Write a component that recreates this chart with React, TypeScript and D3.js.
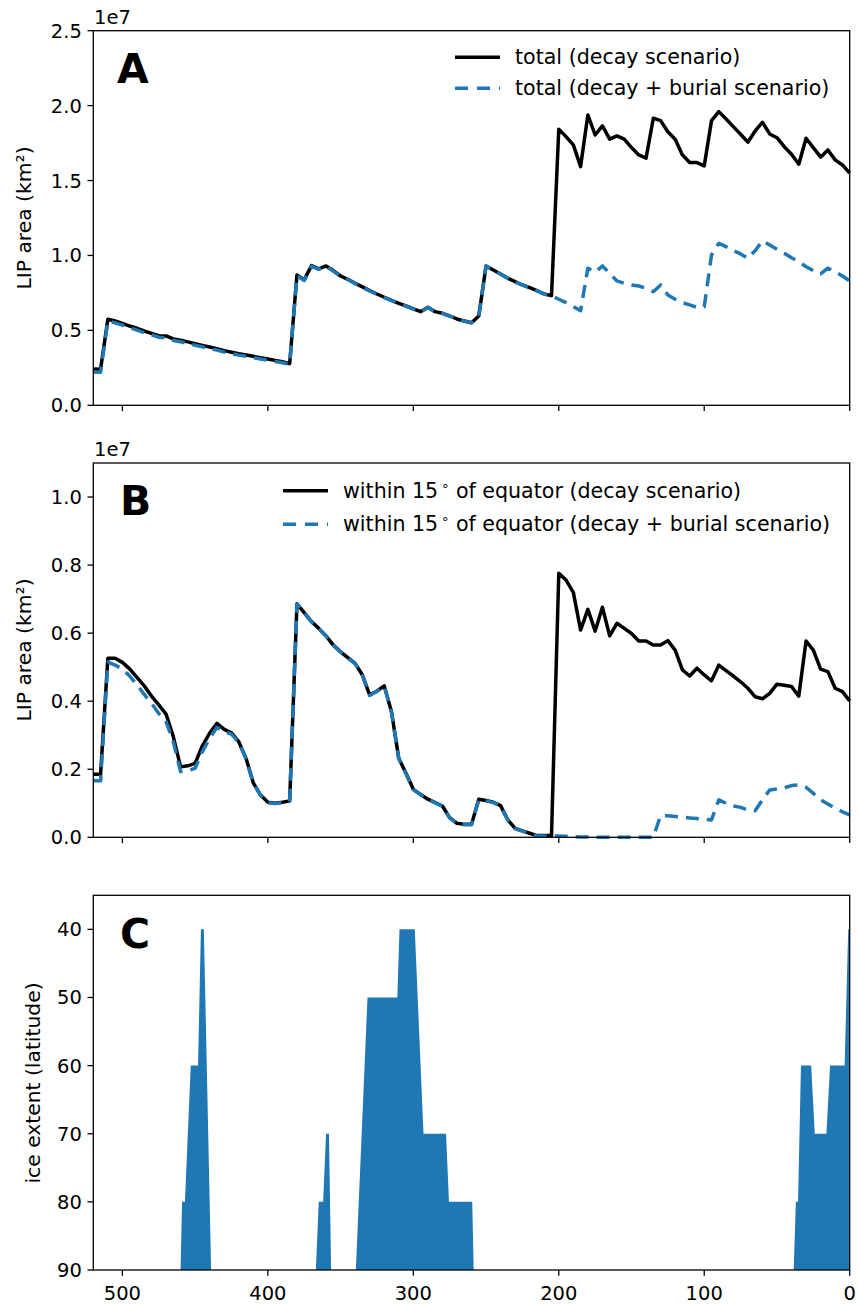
import * as d3 from 'd3'

// age in Myr, 5 Myr steps
const AGE = [
  520, 515, 510, 505, 500, 495, 490, 485, 480, 475,
  470, 465, 460, 455, 450, 445, 440, 435, 430, 425,
  420, 415, 410, 405, 400, 395, 390, 385, 380, 375,
  370, 365, 360, 355, 350, 345, 340, 335, 330, 325,
  320, 315, 310, 305, 300, 295, 290, 285, 280, 275,
  270, 265, 260, 255, 250, 245, 240, 235, 230, 225,
  220, 215, 210, 205, 200, 195, 190, 185, 180, 175,
  170, 165, 160, 155, 150, 145, 140, 135, 130, 125,
  120, 115, 110, 105, 100, 95, 90, 85, 80, 75,
  70, 65, 60, 55, 50, 45, 40, 35, 30, 25,
  20, 15, 10, 5, 0,
]

// LIP area, units of 1e6 km2
const TOTAL_DECAY = [
  2.42, 2.40, 5.74, 5.63, 5.47, 5.29, 5.14, 4.96, 4.80, 4.65,
  4.63, 4.43, 4.34, 4.23, 4.11, 4.00, 3.89, 3.78, 3.65, 3.54,
  3.44, 3.36, 3.27, 3.18, 3.09, 3.00, 2.91, 2.78, 8.70, 8.37,
  9.32, 9.10, 9.30, 8.99, 8.63, 8.41, 8.14, 7.90, 7.65, 7.43,
  7.21, 7.00, 6.81, 6.63, 6.43, 6.25, 6.54, 6.25, 6.14, 5.96,
  5.76, 5.63, 5.51, 5.96, 9.30, 9.03, 8.76, 8.48, 8.25, 8.03,
  7.85, 7.65, 7.43, 7.32, 18.43, 17.93, 17.38, 15.93, 19.38, 18.04,
  18.65, 17.76, 17.98, 17.76, 17.20, 16.71, 16.49, 19.16, 19.00, 18.26,
  17.76, 16.71, 16.20, 16.20, 15.98, 19.00, 19.60, 19.11, 18.60, 18.09,
  17.56, 18.31, 18.89, 18.11, 17.86, 17.26, 16.76, 16.09, 17.82, 17.20,
  16.56, 17.04, 16.38, 16.04, 15.49,
]

const TOTAL_BURIAL = [
  2.22, 2.20, 5.62, 5.50, 5.35, 5.18, 5.02, 4.85, 4.70, 4.54,
  4.50, 4.33, 4.24, 4.13, 4.01, 3.90, 3.79, 3.68, 3.55, 3.45,
  3.35, 3.27, 3.18, 3.09, 3.00, 2.92, 2.84, 2.75, 8.65, 8.33,
  9.28, 9.07, 9.27, 8.96, 8.60, 8.39, 8.12, 7.88, 7.63, 7.41,
  7.19, 6.99, 6.80, 6.62, 6.42, 6.24, 6.53, 6.24, 6.13, 5.95,
  5.75, 5.62, 5.50, 5.95, 9.29, 9.02, 8.75, 8.47, 8.24, 8.02,
  7.84, 7.64, 7.42, 7.31, 7.08, 6.85, 6.58, 6.32, 9.15, 8.88,
  9.30, 8.81, 8.30, 8.14, 8.03, 7.96, 7.81, 7.58, 8.03, 7.36,
  7.08, 6.85, 6.70, 6.54, 6.58, 10.03, 10.81, 10.59, 10.32, 10.10,
  9.81, 10.32, 10.99, 10.70, 10.41, 10.15, 9.85, 9.59, 9.25, 8.99,
  8.77, 9.15, 8.92, 8.63, 8.30,
]

const EQ_DECAY = [
  1.85, 1.85, 5.26, 5.26, 5.14, 4.95, 4.70, 4.45, 4.15, 3.89,
  3.62, 2.96, 2.07, 2.10, 2.17, 2.69, 3.06, 3.35, 3.17, 3.07,
  2.81, 2.32, 1.60, 1.24, 1.03, 1.00, 1.03, 1.07, 6.86, 6.60,
  6.34, 6.14, 5.92, 5.65, 5.45, 5.28, 5.11, 4.77, 4.18, 4.30,
  4.45, 3.69, 2.32, 1.88, 1.41, 1.26, 1.12, 1.02, 0.92, 0.58,
  0.41, 0.38, 0.38, 1.12, 1.08, 1.03, 0.93, 0.51, 0.26, 0.19,
  0.12, 0.05, 0.05, 0.05, 7.76, 7.56, 7.20, 6.09, 6.70, 6.06,
  6.76, 5.92, 6.29, 6.14, 5.99, 5.77, 5.77, 5.65, 5.65, 5.78,
  5.50, 4.92, 4.74, 4.97, 4.77, 4.60, 5.06, 4.90, 4.74, 4.57,
  4.38, 4.13, 4.07, 4.23, 4.50, 4.47, 4.43, 4.15, 5.77, 5.50,
  4.94, 4.87, 4.38, 4.28, 4.01,
]

const EQ_BURIAL = [
  1.66, 1.66, 5.15, 5.06, 4.95, 4.74, 4.48, 4.20, 3.94, 3.64,
  3.40, 2.81, 1.93, 1.96, 2.03, 2.52, 2.91, 3.23, 3.10, 3.03,
  2.79, 2.31, 1.59, 1.23, 1.02, 0.99, 1.02, 1.06, 6.85, 6.59,
  6.33, 6.13, 5.91, 5.64, 5.44, 5.27, 5.10, 4.76, 4.17, 4.29,
  4.44, 3.68, 2.31, 1.87, 1.40, 1.25, 1.11, 1.01, 0.91, 0.57,
  0.40, 0.37, 0.37, 1.11, 1.07, 1.02, 0.92, 0.50, 0.25, 0.18,
  0.11, 0.04, 0.04, 0.04, 0.04, 0.03, 0.02, 0.01, 0.01, 0.00,
  0.00, 0.00, 0.00, 0.00, 0.00, 0.00, 0.00, 0.00, 0.64, 0.63,
  0.61, 0.59, 0.57, 0.55, 0.53, 0.51, 1.10, 1.00, 0.92, 0.88,
  0.80, 0.78, 1.10, 1.39, 1.42, 1.45, 1.52, 1.54, 1.47, 1.29,
  1.10, 0.98, 0.85, 0.75, 0.66,
]

// ice extent outline (age, latitude)
const ICE_AGE = [
  520, 460, 459, 457, 453, 448, 446, 444, 439,
  367, 365, 362, 360, 358, 356.5,
  339.5, 331.5, 311, 309.5, 299, 293, 277.5, 275.5, 259.5, 258.5,
  38.5, 37, 35.5, 33.5, 26.5, 24, 16, 13.5, 3.5, 1, 0,
]
const ICE_LAT = [
  90, 90, 80, 80, 60, 60, 40, 40, 90,
  90, 80, 80, 70, 70, 90,
  90, 50, 50, 40, 40, 70, 70, 80, 80, 90,
  90, 80, 80, 60, 60, 70, 70, 60, 60, 40, 40,
]

const X_TICKS = [500, 400, 300, 200, 100, 0]
const A_TICKS = [0, 5, 10, 15, 20, 25]
const B_TICKS = [0, 2, 4, 6, 8, 10]
const C_TICKS = [40, 50, 60, 70, 80, 90]

const BLUE = '#1f77b4'
const FONT = 'DejaVu Sans, sans-serif'
const TICK = 5.8

const x = d3.scaleLinear().domain([520, 0]).range([93.3, 849.7])
const yA = d3.scaleLinear().domain([0, 25]).range([405.3, 30.7])
const yB = d3.scaleLinear().domain([0, 11]).range([837.3, 463])
const yC = d3.scaleLinear().domain([35, 90]).range([895.3, 1270])

function Frame({ y, ticks, fmt, xLabels }) {
  const [r0, r1] = y.range()
  const top = Math.min(r0, r1)
  const bottom = Math.max(r0, r1)
  const [left, right] = x.range()
  return (
    <g>
      {ticks.map(t => (
        <g key={'y' + t}>
          <line x1={left - TICK} x2={left} y1={y(t)} y2={y(t)} stroke="#000" strokeWidth={1.3} />
          <text x={left - 11.5} y={y(t) + 7} textAnchor="end" fontSize={19.5} fontFamily={FONT}>
            {fmt(t)}
          </text>
        </g>
      ))}
      {X_TICKS.map(t => (
        <g key={'x' + t}>
          <line x1={x(t)} x2={x(t)} y1={bottom} y2={bottom + TICK} stroke="#000" strokeWidth={1.3} />
          {xLabels && (
            <text x={x(t)} y={bottom + 30} textAnchor="middle" fontSize={19.5} fontFamily={FONT}>
              {t}
            </text>
          )}
        </g>
      ))}
      <rect x={left} y={top} width={right - left} height={bottom - top} fill="none" stroke="#000" strokeWidth={1.3} />
    </g>
  )
}

function Series({ values, y, dashed }) {
  const line = d3
    .line<number>()
    .x((_, i) => x(AGE[i]))
    .y(d => y(d))
  return (
    <path
      d={line(values) || ''}
      fill="none"
      stroke={dashed ? BLUE : '#000'}
      strokeWidth={3.5}
      strokeDasharray={dashed ? '13,8' : undefined}
      strokeLinejoin="round"
    />
  )
}

function LegendRow({ x0, y, dashed, children }) {
  return (
    <g>
      <line
        x1={x0}
        x2={x0 + 45}
        y1={y}
        y2={y}
        stroke={dashed ? BLUE : '#000'}
        strokeWidth={3.5}
        strokeDasharray={dashed ? '13,9' : undefined}
      />
      <text x={x0 + 60} y={y + 7} fontSize={20.6} fontFamily={FONT}>
        {children}
      </text>
    </g>
  )
}

export default function App() {
  const ice = d3
    .area<number>()
    .x((_, i) => x(ICE_AGE[i]))
    .y0(yC(90))
    .y1(d => yC(d))

  return (
    <svg
      width={858}
      height={1304}
      style={{ position: 'absolute', left: 0, top: 0, background: '#fff' }}
    >
      <rect width={858} height={1304} fill="#fff" />

      {/* Panel A */}
      <Series values={TOTAL_DECAY} y={yA} />
      <Series values={TOTAL_BURIAL} y={yA} dashed />
      <Frame y={yA} ticks={A_TICKS} fmt={t => (t / 10).toFixed(1)} />
      <text x={94} y={24} fontSize={19.5} fontFamily={FONT}>1e7</text>
      <text x={31} y={218} transform="rotate(-90 31 218)" textAnchor="middle" fontSize={20.3} fontFamily={FONT}>
        LIP area (km²)
      </text>
      <text x={117} y={83} fontSize={41} fontWeight="bold" fontFamily={FONT}>A</text>
      <LegendRow x0={455} y={57.3}>total (decay scenario)</LegendRow>
      <LegendRow x0={455} y={88.3} dashed>total (decay + burial scenario)</LegendRow>

      {/* Panel B */}
      <Series values={EQ_DECAY} y={yB} />
      <Series values={EQ_BURIAL} y={yB} dashed />
      <Frame y={yB} ticks={B_TICKS} fmt={t => (t / 10).toFixed(1)} />
      <text x={94} y={456} fontSize={19.5} fontFamily={FONT}>1e7</text>
      <text x={31} y={650} transform="rotate(-90 31 650)" textAnchor="middle" fontSize={20.3} fontFamily={FONT}>
        LIP area (km²)
      </text>
      <text x={120} y={515} fontSize={41} fontWeight="bold" fontFamily={FONT}>B</text>
      <LegendRow x0={283} y={490.7}>
        within 15<tspan fontSize={13} dy={-8} dx={3}>∘</tspan>
        <tspan dy={8}> of equator (decay scenario)</tspan>
      </LegendRow>
      <LegendRow x0={283} y={524.3} dashed>
        within 15<tspan fontSize={13} dy={-8} dx={3}>∘</tspan>
        <tspan dy={8}> of equator (decay + burial scenario)</tspan>
      </LegendRow>

      {/* Panel C */}
      <path d={ice(ICE_LAT) || ''} fill={BLUE} />
      <Frame y={yC} ticks={C_TICKS} fmt={t => String(t)} xLabels />
      <text x={40} y={1083} transform="rotate(-90 40 1083)" textAnchor="middle" fontSize={20.3} fontFamily={FONT}>
        ice extent (latitude)
      </text>
      <text x={120} y={948} fontSize={41} fontWeight="bold" fontFamily={FONT}>C</text>
    </svg>
  )
}
